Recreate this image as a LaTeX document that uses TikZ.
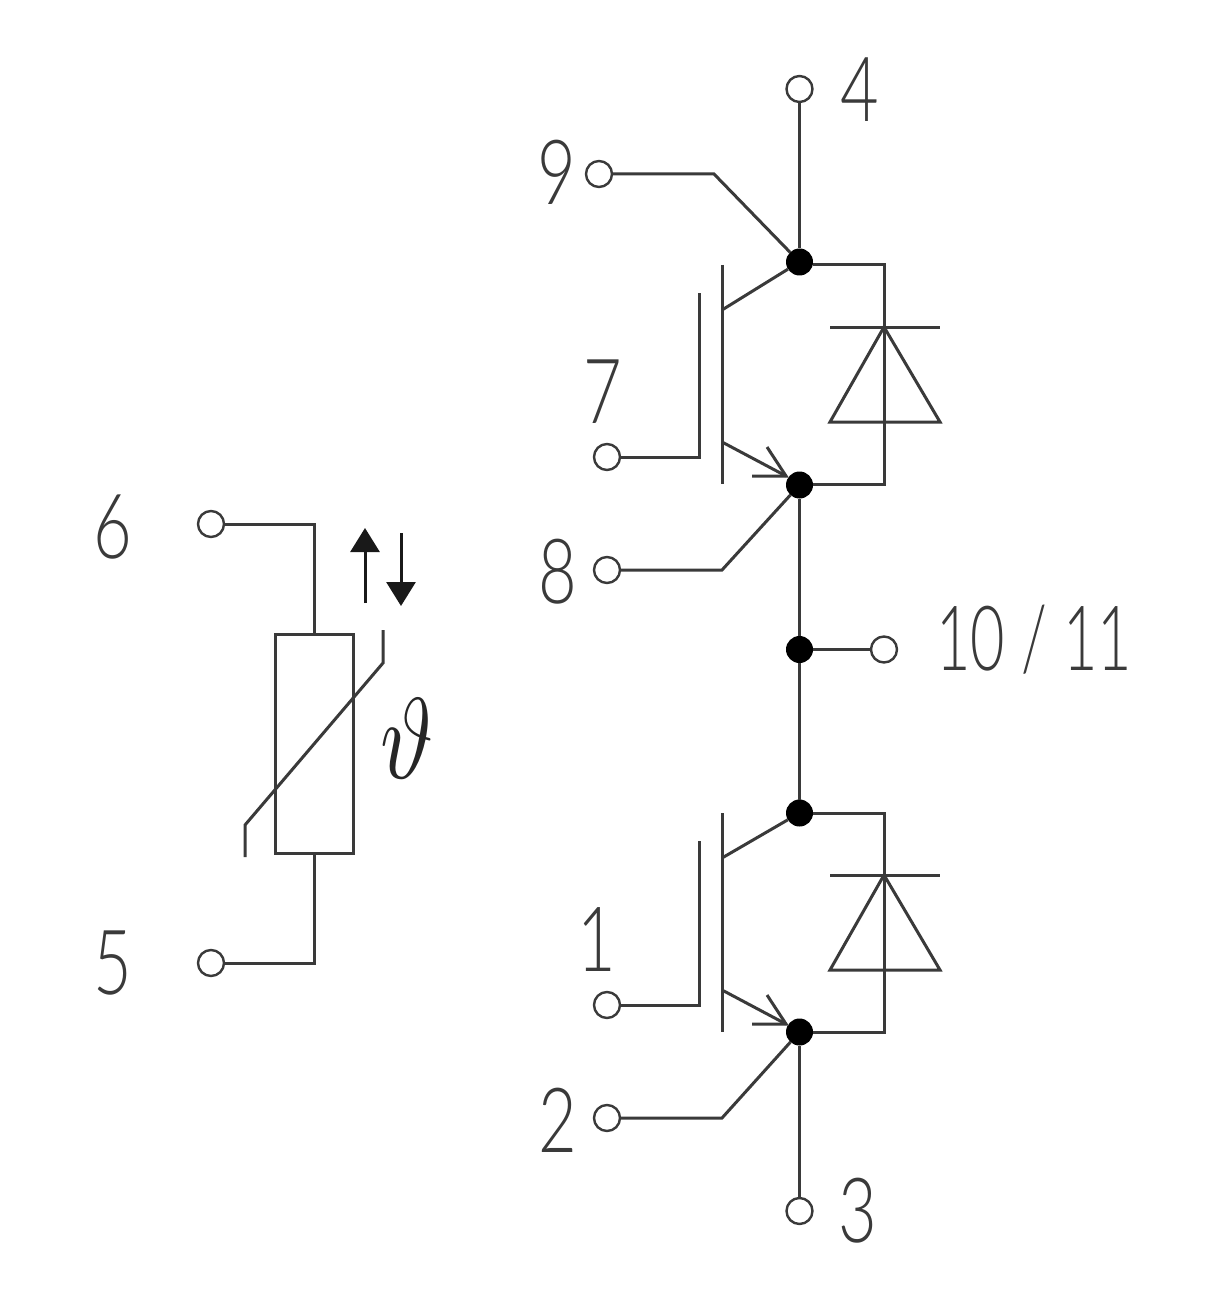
\documentclass[tikz,border=0pt]{standalone}
\usepackage{fontspec}
\usepackage{graphicx}
\setmainfont{Lato}[UprightFont=* Light]
\usetikzlibrary{arrows.meta}
\definecolor{ink}{HTML}{3A3A3A}
\tikzset{
  wire/.style={draw=ink,line width=3pt,line cap=butt,line join=miter},
  term/.style={circle,draw=ink,fill=white,line width=2.4pt,minimum size=26pt,inner sep=0pt,outer sep=0pt},
  junct/.style={circle,fill=black,draw=none,minimum size=27pt,inner sep=0pt,outer sep=0pt},
  lab/.style={text=ink,inner sep=0pt,font=\fontsize{90}{90}\selectfont},
  flow/.style={wire,-{Triangle[length=24pt,width=29pt]},color=black,draw=black!90},
}
\newcommand{\dg}[1]{\scalebox{0.74}[1]{#1}}
\begin{document}
\begin{tikzpicture}[x=1pt,y=-1pt]
\useasboundingbox (0,0) rectangle (1220,1305);
\fill[white] (0,0) rectangle (1220,1305);
% terminals
\node[term] (t4) at (799.5,89) {};
\node[term] (t9) at (599,174) {};
\node[term] (t7) at (607,457) {};
\node[term] (t8) at (607,570) {};
\node[term] (t10) at (884,649.5) {};
\node[term] (t1) at (607,1005) {};
\node[term] (t2) at (607,1118) {};
\node[term] (t3) at (799.5,1211) {};
\node[term] (t6) at (211,524) {};
\node[term] (t5) at (211,963) {};
% junctions
\node[junct] (j1) at (799.5,262) {};
\node[junct] (j2) at (799.5,485) {};
\node[junct] (j3) at (799.5,649.5) {};
\node[junct] (j4) at (799.5,813) {};
\node[junct] (j5) at (799.5,1032) {};
% bends and device points
\coordinate (b9) at (714,174);
\coordinate (b8) at (722,570);
\coordinate (b2) at (722,1118);
\coordinate (g1a) at (699,457);
\coordinate (g1b) at (699,293);
\coordinate (g2a) at (699,1005);
\coordinate (g2b) at (699,841);
\coordinate (c1) at (722,310);
\coordinate (e1) at (722,442);
\coordinate (c2) at (722,858);
\coordinate (e2) at (722,990);
\coordinate (a1) at (786,476);
\coordinate (a2) at (786,1024);
\coordinate (d1t) at (884,265);
\coordinate (d1b) at (884,484);
\coordinate (d2t) at (884,813);
\coordinate (d2b) at (884,1032);
% main wiring
\draw[wire] (t4) -- (j1);
\draw[wire] (t9) -- (b9) -- (j1);
\draw[wire] (j2) -- (j3) -- (j4);
\draw[wire] (j3) -- (t10);
\draw[wire] (j5) -- (t3);
\draw[wire] (t8) -- (b8) -- (j2);
\draw[wire] (t2) -- (b2) -- (j5);
\draw[wire] (j1.east |- d1t) -- (d1t) -- (d1b) -- (j2.east |- d1b);
\draw[wire] (j4) -- (d2t) -- (d2b) -- (j5);
% IGBT upper
\draw[wire] (t7) -- (g1a) -- (g1b);
\draw[wire] (722,265) -- (722,484);
\draw[wire] (c1) -- (j1);
\draw[wire] (e1) -- (a1);
\draw[wire] (767,447) -- (a1) -- (752,476);
% IGBT lower
\draw[wire] (t1) -- (g2a) -- (g2b);
\draw[wire] (722,813) -- (722,1032);
\draw[wire] (c2) -- (j4);
\draw[wire] (e2) -- (a2);
\draw[wire] (767,995) -- (a2) -- (752,1024);
% diodes
\draw[wire] (830,327) -- (940,327);
\draw[wire] (884,327) -- (830,422) -- (940,422) -- cycle;
\draw[wire] (830,875) -- (940,875);
\draw[wire] (884,875) -- (830,970) -- (940,970) -- cycle;
% thermistor
\node[draw=ink,line width=3pt,minimum width=78pt,minimum height=219pt,inner sep=0pt,outer sep=0pt] (r) at (314,743.5) {};
\draw[wire] (t6) -| (r.north);
\draw[wire] (t5) -| (r.south);
\draw[wire] (245,857) -- (245,825) -- (383,663) -- (383,630);
\coordinate (u0) at (365,603);
\coordinate (u1) at (365,528);
\coordinate (v0) at (401,533);
\coordinate (v1) at (401,606);
\draw[flow] (u0) -- (u1);
\draw[flow] (v0) -- (v1);
% labels
\node[lab] (l4) at (860,90) {\dg{4}};
\node[lab] (l9) at (557,172) {\dg{9}};
\node[lab] (l7) at (603,392) {\dg{7}};
\node[lab] (l6) at (113,527) {\dg{6}};
\node[lab] (l8) at (558,572) {\dg{8}};
\node[lab] (l10) at (1034,640) {\scalebox{0.66}[1]{10 / 11}};
\node[lab] (l1) at (597,940) {\dg{1}};
\node[lab] (l5) at (113,963) {\dg{5}};
\node[lab] (l2) at (558,1120) {\dg{2}};
\node[lab] (l3) at (858,1211) {\dg{3}};
\node[text=black!85,inner sep=0pt] (th) at (407,739) {\scalebox{9}[11.5]{$\vartheta$}};
\end{tikzpicture}
\end{document}
